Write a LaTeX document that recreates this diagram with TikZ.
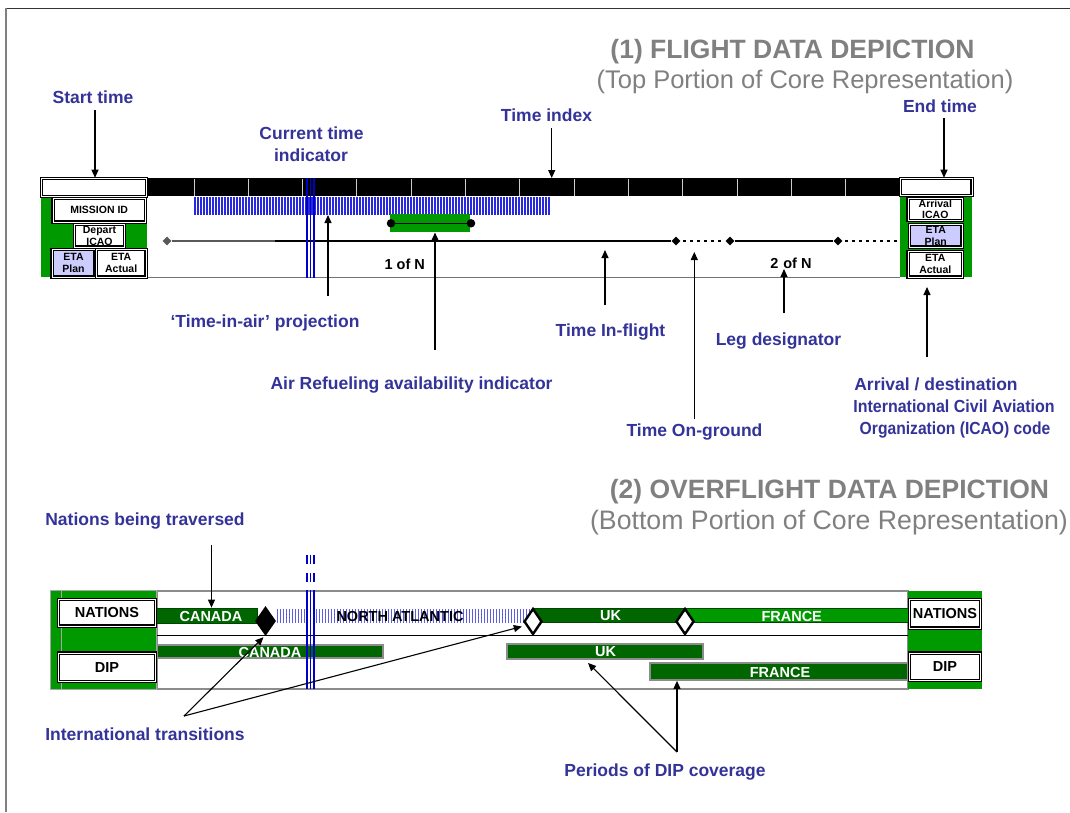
\documentclass[tikz,border=0pt]{standalone}
\usepackage{fontspec}
\setmainfont{Liberation Sans}
\usepackage{graphicx}
\usetikzlibrary{arrows.meta,shapes.geometric}
\definecolor{lblblue}{RGB}{51,51,153}
\definecolor{ttlgray}{RGB}{128,128,128}
\definecolor{grn}{RGB}{0,153,0}
\definecolor{dkgrn}{RGB}{0,102,0}
\definecolor{bordgrn}{RGB}{0,70,0}
\definecolor{lav}{RGB}{204,204,255}
\definecolor{hatchblue}{RGB}{40,40,220}
\definecolor{curblue}{RGB}{0,0,204}
\begin{document}
\begin{tikzpicture}[x=1pt,y=-1pt,
  lbl/.style={font=\fontsize{17.5}{21}\selectfont\bfseries, text=lblblue, inner sep=0, anchor=base},
  ttl/.style={font=\fontsize{26.5}{30}\selectfont\bfseries, text=ttlgray, inner sep=0, anchor=base},
  dbox/.style={draw=black, line width=1.15pt, double=white, double distance=0.9pt, fill=white,
    inner sep=0, font=\fontsize{10.5}{11.8}\selectfont\bfseries, align=center},
  nbox/.style={dbox, font=\fontsize{14.5}{16}\selectfont\bfseries},
  bartxt/.style={font=\fontsize{14.5}{16}\selectfont\bfseries, text=white, inner sep=0},
  arr/.style={-{Triangle[length=8pt,width=7pt]}, line width=1.1pt, black},
  tickmark/.style={diamond, fill=black, minimum size=9, inner sep=0},
  tl/.style={line width=2pt, black},
  dotseg/.style={line width=2.6pt, black, dash pattern=on 3pt off 4pt},
  dipbar/.style={fill=dkgrn, draw=black!45, line width=1.8pt, inner sep=0},
  natbar/.style={fill=dkgrn, draw=bordgrn, line width=0.8pt, inner sep=0},
  cur/.style={curblue, line width=1.6pt},
  hatchline/.style={hatchblue, line width=1.3pt},
  border/.style={draw=black, line width=2.4pt, fill=white, diamond, inner sep=0}
]
\useasboundingbox (0,0) rectangle (1070,812);
\fill[white] (0,0) rectangle (1070,812);

% page frame
\draw[black!80, line width=1pt] (6,8) -- (1070,8);
\draw[black!50, line width=1.2pt] (6,8) -- (6,812);

% titles
\node[ttl] (t1) at (792.5,58) {(1) FLIGHT DATA DEPICTION};
\node[ttl, font=\fontsize{25.5}{30}\selectfont] (t1b) at (805,88) {(Top Portion of Core Representation)};
\node[ttl] (t2) at (829.5,498) {(2) OVERFLIGHT DATA DEPICTION};
\node[ttl, font=\fontsize{26.7}{30}\selectfont] (t2b) at (829,529) {(Bottom Portion of Core Representation)};

% ================= flight data: time bar =================
\fill[black] (147,178) rectangle (900,196);
\foreach \i in {0,...,12} {
  \draw[black!20, line width=1pt] (194+54.3*\i,178.5) -- (194+54.3*\i,195.5);
}
% time-in-air projection hatch
\foreach \x in {195,198,...,550} {
  \draw[hatchline] (\x,196.5) -- (\x,214.5);
}
% baseline
\draw[black!55, line width=1.3pt] (147,277.5) -- (900,277.5);

% legs
\node[tickmark, fill=black!65] (k0) at (167,241) {};
\coordinate (kg) at (275,241);
\node[tickmark] (k1) at (676,241) {};
\node[tickmark] (k2) at (730,241) {};
\node[tickmark] (k3) at (838,241) {};
\coordinate (kend) at (900,241);
\draw[tl, black!65] (k0) -- (kg);
\draw[tl] (kg) -- (k1);
\draw[dotseg] (683,241) -- (724,241);
\draw[tl] (k2) -- (k3);
\draw[dotseg] (845,241) -- (kend);

% air refueling indicator
\node[fill=grn, minimum width=80, minimum height=17.5, inner sep=0] (refuel) at (430,222.8) {};
\node[circle, fill=black, minimum size=8.5, inner sep=0] (rf1) at (391,223.3) {};
\node[circle, fill=black, minimum size=8.5, inner sep=0] (rf2) at (471,223.3) {};
\draw[line width=1.6pt] (rf1) -- (rf2);

% leg numbers
\node[font=\fontsize{14.5}{16}\selectfont\bfseries, inner sep=0] (leg1) at (404.7,264) {1 of N};
\node[font=\fontsize{14.5}{16}\selectfont\bfseries, inner sep=0] (leg2) at (791,263) {2\,\,of N};

% current time indicator
\foreach \x in {307,310.5,314} {
  \draw[cur] (\x,178) -- (\x,277.5);
}

% left block
\fill[grn] (41,196) rectangle (147,277);
\node[dbox, minimum width=105.4, minimum height=18.4] (topL) at (94,187.5) {};
\node[dbox, minimum width=92.4, minimum height=23.4] (mission) at (99.2,210.3) {MISSION ID};
\node[dbox, minimum width=49.8, minimum height=22.4] (depart) at (99.5,235.8) {Depart\\ICAO};
\node[dbox, fill=lav, minimum width=43, minimum height=27.4] (etapL) at (73.5,263.3) {ETA\\Plan};
\node[dbox, minimum width=49.7, minimum height=27.4] (etaaL) at (121.2,263.3) {ETA\\Actual};

% right block
\fill[grn] (900,196) rectangle (972,277);
\node[dbox, minimum width=71.4, minimum height=17.4] (topR) at (936.3,187) {};
\node[dbox, minimum width=54.7, minimum height=22.4] (arrival) at (935.3,209.2) {Arrival\\ICAO};
\node[dbox, fill=lav, minimum width=52.4, minimum height=22.4] (etapR) at (935.8,235.8) {ETA\\Plan};
\node[dbox, minimum width=54.7, minimum height=25.7] (etaaR) at (935.3,264.2) {ETA\\Actual};

% labels (flight data)
\node[lbl] (lStart) at (93,103) {Start time};
\node[lbl] (lCur1) at (311.5,139) {Current time};
\node[lbl] (lCur2) at (311,161) {indicator};
\node[lbl] (lIdx) at (546.5,121) {Time index};
\node[lbl] (lEnd) at (940,112) {End time};
\node[lbl] (lAir) at (265,327) {‘Time-in-air’ projection};
\node[lbl] (lRef) at (411.5,389) {Air Refueling availability indicator};
\node[lbl] (lFly) at (610.5,336) {Time In-flight};
\node[lbl] (lGnd) at (694.5,436) {Time On-ground};
\node[lbl] (lLeg) at (778.5,345) {Leg designator};
\node[lbl] (lArr1) at (936,390) {Arrival / destination};
\node[lbl] (lArr2) at (954,412) {\scalebox{0.915}[1]{International Civil Aviation}};
\node[lbl] (lArr3) at (955,434) {\scalebox{0.895}[1]{Organization (ICAO) code}};

% connectors (flight data)
\coordinate (aStart) at (95,110);
\draw[arr] (aStart) -- (aStart |- topL.north);
\coordinate (aIdx) at (551.7,128);
\coordinate (tIdx) at (551.7,178);
\draw[arr] (aIdx) -- (tIdx);
\coordinate (aEnd) at (944,118);
\draw[arr] (aEnd) -- (aEnd |- topR.north);
\coordinate (aAir) at (328,296);
\coordinate (tAir) at (328,215);
\draw[arr] (aAir) -- (tAir);
\coordinate (aRef) at (435,350);
\coordinate (tRef) at (435,232.5);
\draw[arr] (aRef) -- (tRef);
\coordinate (aFly) at (605,305);
\coordinate (tFly) at (605,250);
\draw[arr] (aFly) -- (tFly);
\coordinate (aGnd) at (694.3,419);
\coordinate (tGnd) at (694.3,252);
\draw[arr] (aGnd) -- (tGnd);
\coordinate (aLeg) at (784,313);
\coordinate (tLeg) at (784,269);
\draw[arr] (aLeg) -- (tLeg);
\coordinate (aArr) at (927,357);
\coordinate (tArr) at (927,287);
\draw[arr] (aArr) -- (tArr);

% ================= overflight data =================
\draw[black!45, line width=1.8pt, fill=white] (156.7,590.7) rectangle (908.3,689.3);
\draw[black, line width=0.9pt] (156.7,635) -- (908.3,635);

% nations row
\node[natbar, minimum width=100.3, minimum height=15] (natCA) at (206.85,615.5) {};
\node[bartxt] at (211,616.7) {CANADA};
\foreach \x in {277,280,...,529} {
  \draw[hatchblue!75, line width=1pt] (\x,609) -- (\x,623);
}
\node[font=\fontsize{14.5}{16}\selectfont\bfseries, inner sep=0] (natNA) at (400,616.5) {NORTH ATLANTIC};
\node[natbar, minimum width=152, minimum height=14.4] (natUK) at (609,615.5) {};
\node[bartxt] at (610.7,616) {UK};
\node[natbar, fill=grn, minimum width=223, minimum height=14.4] (natFR) at (796.5,615.5) {};
\node[bartxt] at (791.7,616) {FRANCE};

% DIP row
\node[dipbar, minimum width=226.3, minimum height=13.3] (dipCA) at (270.2,651.7) {};
\node[bartxt] at (270,652) {CANADA};
\node[dipbar, minimum width=196.6, minimum height=14.7] (dipUK) at (605,651.7) {};
\node[bartxt] at (605.7,652) {UK};
\node[dipbar, minimum width=258, minimum height=17.3] (dipFR) at (779,671.3) {};
\node[bartxt] at (780,672) {FRANCE};

% current time indicator
\foreach \x in {307,310.5,314} {
  \draw[cur] (\x,590) -- (\x,689);
  \draw[cur] (\x,555) -- (\x,564);
  \draw[cur] (\x,573) -- (\x,582);
}

% international transitions
\node[diamond, fill=black, minimum width=21, minimum height=30, inner sep=0] (dBlack) at (265.5,621) {};
\node[border, minimum width=18, minimum height=26] (dWhite1) at (533,621.5) {};
\node[border, minimum width=18, minimum height=26] (dWhite2) at (685,621.5) {};

% side blocks
\fill[grn, draw=black!35, line width=1pt] (50,590.7) rectangle (156.7,689.3);
\draw[black!35, line width=1pt] (61.7,590.7) -- (61.7,689.3);
\node[nbox, minimum width=96.8, minimum height=26.4] (natL) at (107,612.8) {NATIONS};
\node[nbox, minimum width=96.8, minimum height=28.4] (dipL) at (107,667.2) {DIP};
\fill[grn] (908.3,590.7) rectangle (981.7,689.3);
\node[nbox, minimum width=70.8, minimum height=28.4] (natR) at (945,613.8) {NATIONS};
\node[nbox, minimum width=70.8, minimum height=27.4] (dipR) at (945,666.7) {DIP};

% labels (overflight data)
\node[lbl] (lNat) at (145,525) {Nations being traversed};
\node[lbl] (lIT) at (145,740) {International transitions};
\node[lbl] (lDIP) at (665,776) {Periods of DIP coverage};

% connectors (overflight data)
\coordinate (aNat) at (211.5,545);
\draw[arr] (aNat) -- (aNat |- natCA.north);
\coordinate (vIT) at (184,716);
\draw[arr] (vIT) -- ([xshift=-2pt,yshift=-1pt]dBlack.south);
\draw[arr] (vIT) -- ([xshift=-1pt,yshift=-5pt]dWhite1.west);
\coordinate (vDIP) at (677,752);
\draw[arr] (vDIP) -- ([xshift=-17pt,yshift=-3pt]dipUK.south);
\draw[arr] (vDIP) -- (vDIP |- dipFR.south);
\end{tikzpicture}
\end{document}
